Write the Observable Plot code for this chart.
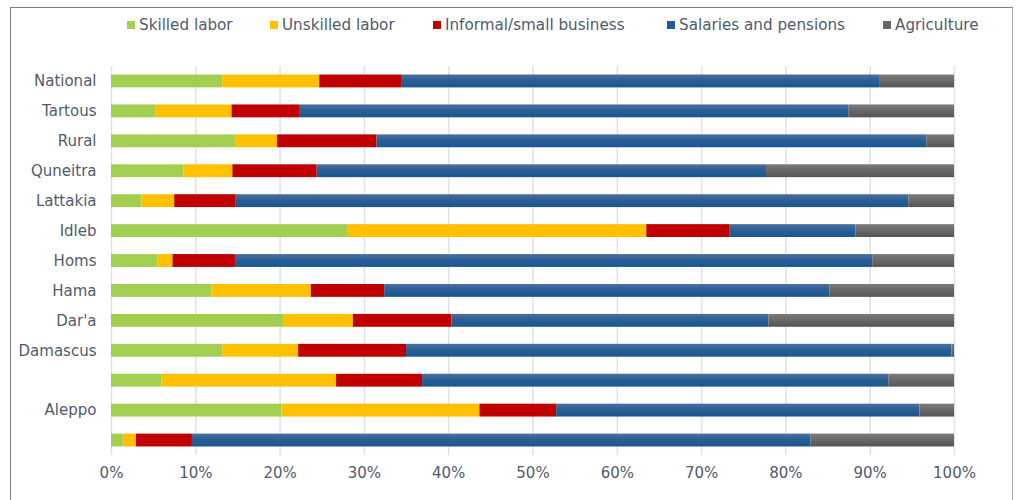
<!DOCTYPE html>
<html>
<head>
<meta charset="utf-8">
<script src="https://cdn.jsdelivr.net/npm/d3@7"></script>
<script src="https://cdn.jsdelivr.net/npm/@observablehq/plot@0.6"></script>
<style>
  html, body { margin: 0; padding: 0; background: #fff; overflow: hidden; }
  body { width: 1016px; height: 500px; position: relative; font-family: "DejaVu Sans", Verdana, sans-serif; }
  #frame { position: absolute; left: 10px; top: 7px; width: 1003px; height: 600px; border: 1px solid #7f7f7f; border-right-color: #a6a6a6; box-sizing: border-box; pointer-events: none; }
  #legend { height: 45px; position: relative; }
  .item { position: absolute; top: 15px; display: flex; align-items: center; font-size: 15.2px; line-height: 20px; color: #4f5b6f; white-space: nowrap; }
  .sw { width: 8px; height: 8px; margin-right: 4px; display: inline-block; }
  #chart svg { display: block; }
</style>
</head>
<body>
<div id="frame"></div>
<div id="legend"></div>
<div id="chart"></div>
<script>
const regions = ["National", "Tartous", "Rural", "Quneitra", "Lattakia", "Idleb", "Homs", "Hama", "Dar'a", "Damascus", " ", "Aleppo", "  "];
const series = ["Skilled labor", "Unskilled labor", "Informal/small business", "Salaries and pensions", "Agriculture"];
const skilled   = [13.2, 5.3, 14.7, 8.6, 3.6, 28.0, 5.5, 11.9, 20.4, 13.2, 6.0, 20.2, 1.4];
const unskilled = [11.5, 9.0, 5.0, 5.8, 3.9, 35.5, 1.8, 11.8, 8.3, 9.0, 20.7, 23.5, 1.55];
const informal  = [9.8, 8.1, 11.8, 10.0, 7.3, 9.9, 7.4, 8.7, 11.7, 12.8, 10.2, 9.1, 6.65];
const salaries  = [56.7, 65.1, 65.2, 53.3, 79.8, 14.9, 75.6, 52.8, 37.6, 64.7, 55.3, 43.1, 73.4];
const agriculture = [8.8, 12.5, 3.3, 22.3, 5.4, 11.7, 9.7, 14.8, 22.0, 0.3, 7.8, 4.1, 17.0];
const xTicks = [0, 10, 20, 30, 40, 50, 60, 70, 80, 90, 100];
const swatchColors = ["#a3cf51", "#ffc000", "#c00000", "#1f5c99", "#666666"];
const fills = ["#a3cf51", "#ffc000", "#c00000", "url(#gBlue)", "url(#gGrey)"];
const legendLeft = [127, 270, 433, 667, 883];

const valuesBySeries = [skilled, unskilled, informal, salaries, agriculture];
const data = [];
regions.forEach((r, i) => {
  series.forEach((s, j) => data.push({region: r, series: s, value: valuesBySeries[j][i]}));
});

// legend
const legend = document.getElementById("legend");
series.forEach((s, j) => {
  const it = document.createElement("span");
  it.className = "item";
  it.style.left = legendLeft[j] + "px";
  it.innerHTML = `<span class="sw" style="background:${swatchColors[j]}"></span>${s}`;
  legend.appendChild(it);
});

const svg = Plot.plot({
  width: 1016,
  height: 455,
  marginTop: 21,
  marginBottom: 45,
  marginLeft: 111,
  marginRight: 62,
  style: { fontFamily: "DejaVu Sans, Verdana, sans-serif", fontSize: "15px", color: "#4f5b6f", background: "transparent" },
  x: { domain: [0, 100], ticks: xTicks, tickFormat: d => d + "%", tickSize: 0, tickPadding: 12, label: null },
  y: { domain: regions, paddingInner: 0.57, paddingOuter: 0.285, round: false, tickSize: 0, tickPadding: 15, label: null },
  color: { domain: series, range: fills },
  marks: [
    Plot.ruleX(xTicks, { stroke: "#dde1e8", strokeWidth: 1.5 }),
    Plot.barX(data, { x: "value", y: "region", fill: "series", order: null })
  ]
});
svg.insertAdjacentHTML("afterbegin", `<defs>
  <linearGradient id="gBlue" x1="0" y1="0" x2="0" y2="1">
    <stop offset="0" stop-color="#4c6f9e"/>
    <stop offset="0.45" stop-color="#2b5f95"/>
    <stop offset="1" stop-color="#1a5690"/>
  </linearGradient>
  <linearGradient id="gGrey" x1="0" y1="0" x2="0" y2="1">
    <stop offset="0" stop-color="#7b7b7b"/>
    <stop offset="1" stop-color="#555555"/>
  </linearGradient>
</defs>`);
document.getElementById("chart").appendChild(svg);
</script>
</body>
</html>
